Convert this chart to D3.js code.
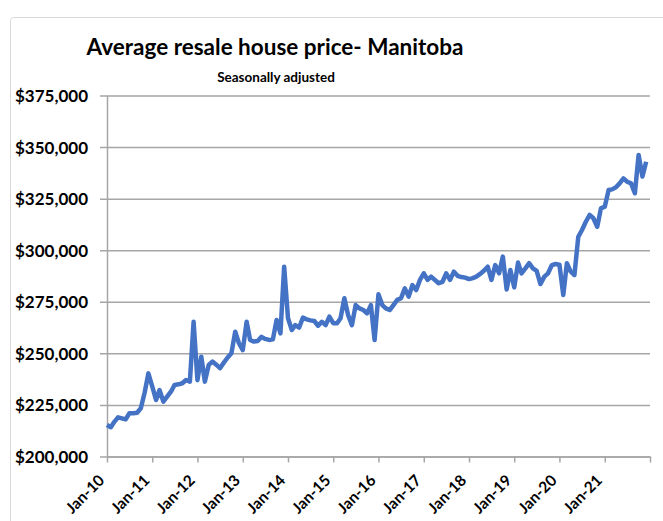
<!DOCTYPE html>
<html>
<head>
<meta charset="utf-8">
<title>Average resale house price- Manitoba</title>
<script src="https://d3js.org/d3.v7.min.js"></script>
<style>
  body { margin: 0; background: #fff; }
  text { font-family: Lato, "Open Sans", sans-serif; font-weight: bold; fill: #000; }
</style>
</head>
<body>
<svg width="663" height="521"></svg>
<script>
// monthly average resale price, Jan-10 .. Dec-21 (in $000)
var startMonth = "2010-01";
var prices = [
  215.3, 214.2, 216.8, 219, 218.5, 218, 221, 221, 221.2, 223.4, 231, 240.3,
  234, 227.4, 232.2, 226.6, 229, 231.4, 234.7, 235, 235.5, 237.1, 236.3, 265.3,
  237, 248.4, 236.3, 244.4, 246, 244.5, 242.8, 245.5, 248, 250, 260.5, 254.9,
  251.6, 265.3, 256.5, 255.7, 256, 258, 257, 256.5, 256.8, 266.2, 259.7, 292,
  267, 261.3, 263.7, 262.5, 267.3, 266.5, 266, 265.7, 263.4, 265.3, 263.7, 267.8,
  264.6, 264.6, 267, 276.7, 268.6, 263.7, 273.4, 271.8, 271, 269.4, 273.4, 256.5,
  278.6, 273.4, 271.8, 271, 273.4, 275.9, 276.7, 281.5, 277.5, 283.1, 280.7, 285.6,
  288.8, 285.6, 287.2, 285.6, 284, 284.7, 288.8, 285.6, 289.6, 287.6, 287, 286.7,
  286, 286.5, 287.2, 288.5, 290, 292, 285.6, 292.8, 288.8, 296.9, 281, 290.4,
  282, 294, 288.8, 291.2, 293.7, 291.2, 290, 283.6, 287.2, 288.8, 292.8, 293.3,
  293, 278.3, 293.7, 289.6, 288, 306.5, 309.8, 313.8, 317.1, 315.5, 311.4, 320.3,
  321.1, 329.2, 329.5, 330.5, 332.4, 334.8, 333.2, 332.4, 327.6, 346.2, 335.7, 342.9
];
var yTicks = [200000, 225000, 250000, 275000, 300000, 325000, 350000, 375000];
var xTickLabels = ["Jan-10", "Jan-11", "Jan-12", "Jan-13", "Jan-14", "Jan-15",
  "Jan-16", "Jan-17", "Jan-18", "Jan-19", "Jan-20", "Jan-21", ""];

var parseMonth = d3.timeParse("%Y-%m");
var t0 = parseMonth(startMonth);
var data = prices.map(function (v, i) {
  return { date: d3.timeMonth.offset(t0, i), value: v * 1000 };
});
var tickDates = xTickLabels.map(function (d, i) { return d3.timeYear.offset(t0, i); });

var svg = d3.select("svg");
var plotLeft = 107, plotRight = 650, plotTop = 95.5, plotBottom = 456.5;

var x = d3.scaleTime().domain([t0, d3.timeYear.offset(t0, 12)]).range([plotLeft, plotRight]);
var y = d3.scaleLinear().domain([200000, 375000]).range([plotBottom, plotTop]);

// chart frame
svg.append("rect")
  .attr("x", 10.5).attr("y", 17.5)
  .attr("width", 720).attr("height", 600)
  .attr("rx", 3)
  .attr("fill", "none").attr("stroke", "#d9d9d9");

// gridlines + y labels
var yAxis = svg.append("g").attr("transform", "translate(" + plotLeft + ",0)")
  .call(d3.axisLeft(y).tickValues(yTicks)
    .tickSize(-(plotRight - plotLeft)).tickSizeOuter(0)
    .tickFormat(function (d) { return "$" + d3.format(",")(d); }));
yAxis.select(".domain").attr("stroke", "#a6a6a6").attr("stroke-width", 1.5);
yAxis.selectAll(".tick line").attr("stroke", "#a6a6a6").attr("stroke-width", 1.5)
  .attr("x1", -7);
yAxis.selectAll(".tick text").attr("x", -19).attr("dy", "0.35em")
  .style("font-size", "17px");

// x axis
var xAxis = svg.append("g").attr("transform", "translate(0," + plotBottom + ")")
  .call(d3.axisBottom(x).tickValues(tickDates).tickSize(6).tickSizeOuter(0)
    .tickFormat(function (d, i) { return xTickLabels[i]; }));
xAxis.select(".domain").attr("stroke", "#a6a6a6").attr("stroke-width", 1.5);
xAxis.selectAll(".tick line").attr("stroke", "#a6a6a6").attr("stroke-width", 1.5);
xAxis.selectAll(".tick text")
  .attr("text-anchor", "end")
  .attr("transform", "translate(-6,21) rotate(-45)")
  .attr("y", 0).attr("dy", "0.35em")
  .style("font-size", "15.5px");

// price line
var line = d3.line()
  .x(function (d) { return x(d.date); })
  .y(function (d) { return y(d.value); });
svg.append("path").datum(data)
  .attr("d", line)
  .attr("fill", "none")
  .attr("stroke", "#4472c4")
  .attr("stroke-width", 4.5)
  .attr("stroke-linejoin", "round");

// titles
svg.append("text")
  .attr("x", 275).attr("y", 55)
  .attr("text-anchor", "middle")
  .style("font-size", "22.5px")
  .text("Average resale house price- Manitoba");
svg.append("text")
  .attr("x", 276).attr("y", 82)
  .attr("text-anchor", "middle")
  .style("font-size", "13.5px")
  .text("Seasonally adjusted");
</script>
</body>
</html>
